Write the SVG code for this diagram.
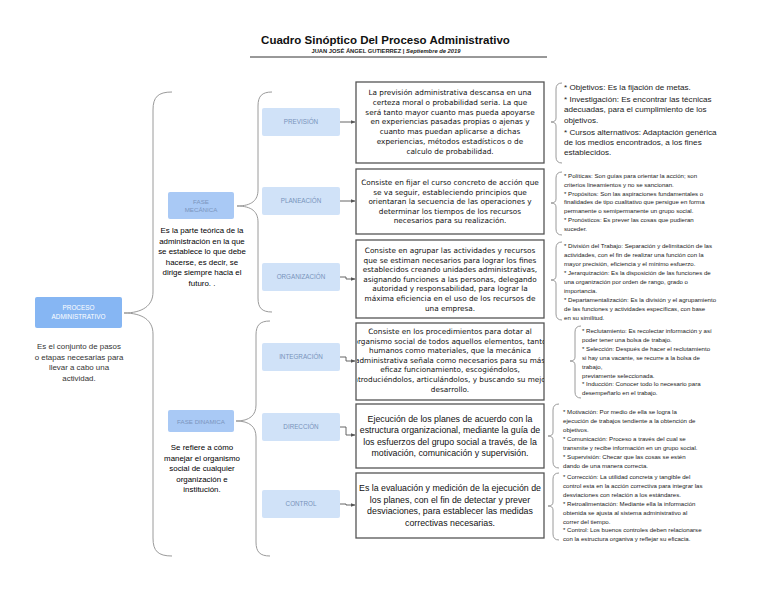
<svg xmlns="http://www.w3.org/2000/svg" width="768" height="594" viewBox="0 0 768 594">
<defs>
<style>
.bg{fill:#ffffff}
.title{font-family:"Liberation Sans",Arial,sans-serif;font-weight:bold;font-size:11.5px;fill:#111}
.sub{font-family:"Liberation Sans",Arial,sans-serif;font-weight:bold;font-size:5.8px;fill:#222}
.b1{fill:#86b6f3}
.b2{fill:#a9c9f5}
.b3{fill:#d0e2f8}
.l1{font-family:"Liberation Sans",Arial,sans-serif;font-size:6.4px;fill:#ffffff;text-anchor:middle}
.l2{font-family:"Liberation Sans",Arial,sans-serif;font-size:6.2px;fill:#7b95bd;text-anchor:middle}
.l3{font-family:"Liberation Sans",Arial,sans-serif;font-size:6.3px;fill:#7893bb;text-anchor:middle}
.lt{font-family:"Liberation Sans",Arial,sans-serif;font-size:7.9px;fill:#333;text-anchor:middle}
.ft{font-family:"Liberation Sans",Arial,sans-serif;font-size:7.9px;fill:#000;text-anchor:middle}
.box{fill:#ffffff;stroke:#555;stroke-width:1.3}
.dt{font-family:"DejaVu Sans",sans-serif;font-size:7.3px;fill:#111;text-anchor:middle}
.dt2{font-family:"Liberation Sans",Arial,sans-serif;font-size:8.8px;fill:#111;text-anchor:middle}
.ls{font-family:"Liberation Sans",Arial,sans-serif;font-size:8.1px;fill:#1a1a1a}
.ss{font-family:"Liberation Sans",Arial,sans-serif;font-size:6.1px;fill:#1a1a1a}
.brace{fill:none;stroke:#9a9a9a;stroke-width:1}
.arr{fill:none;stroke:#555;stroke-width:0.9}
</style>
<marker id="ah" viewBox="0 0 10 10" refX="9" refY="5" markerWidth="5" markerHeight="5" orient="auto" markerUnits="userSpaceOnUse">
<path d="M0,1 L10,5 L0,9 z" fill="#555"/>
</marker>
<clipPath id="clipInt"><rect x="357" y="323" width="187" height="77"/></clipPath>
</defs>
<rect class="bg" x="0" y="0" width="768" height="594"/>

<g id="header">
<text class="title" x="385.5" y="44" text-anchor="middle">Cuadro Sinóptico Del Proceso Administrativo</text>
<text class="sub" x="386" y="53" text-anchor="middle">JUAN JOSÉ ÁNGEL GUTIERREZ | <tspan font-style="italic">Septiembre de 2019</tspan></text>
<line x1="250" y1="57" x2="547" y2="57" stroke="#333" stroke-width="1"/>
</g>

<g id="connectors">
<path class="brace" d="M172,92 C158,92 153,97 153,110 L153,292 C153,306 142,313 124,313 C142,313 153,320 153,334 L153,538 C153,551 158,556 172,556"/>
<path class="brace" d="M272,92 C262,92 258,96 258,106 L258,190 C258,200 252,206 237,206 C252,206 258,212 258,222 L258,298 C258,308 262,312 272,312"/>
<path class="brace" d="M270,321 C260,321 256,325 256,335 L256,405 C256,415 250,421 236,421 C250,421 256,427 256,437 L256,542 C256,552 260,556 270,556"/>
<path class="brace" d="M562,83 Q556,83 556,89 L556,118 Q556,122 551,122 Q556,122 556,126 L556,157 Q556,163 562,163"/>
<path class="brace" d="M562,172 Q556,172 556,178 L556,199 Q556,203 551,203 Q556,203 556,207 L556,229 Q556,235 562,235"/>
<path class="brace" d="M562,242 Q556,242 556,248 L556,276 Q556,280 551,280 Q556,280 556,284 L556,314 Q556,320 562,320"/>
<path class="brace" d="M581,326 Q575,326 575,332 L575,357 Q575,361 570,361 Q575,361 575,365 L575,392 Q575,398 581,398"/>
<path class="brace" d="M559,404 Q553,404 553,410 L553,432 Q553,436 548,436 Q553,436 553,440 L553,462 Q553,468 559,468"/>
<path class="brace" d="M559,473 Q553,473 553,479 L553,502 Q553,506 548,506 Q553,506 553,510 L553,534 Q553,540 559,540"/>
<path class="arr" d="M340,122 L355,122" marker-end="url(#ah)"/>
<path class="arr" d="M340,201 L355,201" marker-end="url(#ah)"/>
<path class="arr" d="M340,277 L346,277 L346,279 L355,279" marker-end="url(#ah)"/>
<path class="arr" d="M340,357 L346,357 L346,361 L355,361" marker-end="url(#ah)"/>
<path class="arr" d="M340,427 L346,427 L346,435 L355,435" marker-end="url(#ah)"/>
<path class="arr" d="M340,504 L346,504 L346,505 L355,505" marker-end="url(#ah)"/>
</g>

<g id="proceso">
<rect class="b1" x="35" y="297" width="87" height="31" rx="2"/>
<text class="l1" x="78.5" y="310">PROCESO</text>
<text class="l1" x="78.5" y="319">ADMINISTRATIVO</text>
<text class="lt" x="79" y="349">Es el conjunto de pasos</text>
<text class="lt" x="79" y="359.5">o etapas necesarias para</text>
<text class="lt" x="79" y="370">llevar a cabo una</text>
<text class="lt" x="79" y="380.5">actividad.</text>
</g>

<g id="fase-mecanica">
<rect class="b2" x="168" y="192" width="66" height="27" rx="2"/>
<text class="l2" x="201" y="204">FASE</text>
<text class="l2" x="201" y="212">MECÁNICA</text>
<text class="ft" x="202" y="233">Es la parte teórica de la</text>
<text class="ft" x="202" y="243.5">administración en la que</text>
<text class="ft" x="202" y="254">se establece lo que debe</text>
<text class="ft" x="202" y="264.5">hacerse, es decir, se</text>
<text class="ft" x="202" y="275">dirige siempre hacia el</text>
<text class="ft" x="202" y="285.5">futuro.  .</text>
</g>

<g id="fase-dinamica">
<rect class="b2" x="168" y="410" width="66" height="22" rx="2"/>
<text class="l2" x="201" y="423.5">FASE DINAMICA</text>
<text class="ft" x="202" y="450">Se refiere a cómo</text>
<text class="ft" x="202" y="460.5">manejar el organismo</text>
<text class="ft" x="202" y="471">social de cualquier</text>
<text class="ft" x="202" y="481.5">organización e</text>
<text class="ft" x="202" y="492">institución.</text>
</g>

<g id="prevision">
<rect class="b3" x="262" y="108" width="78" height="28" rx="2"/>
<text class="l3" x="301" y="124.3">PREVISIÓN</text>
<rect class="box" x="356" y="82" width="188" height="81"/>
<text class="dt" x="450" y="95">La previsión administrativa descansa en una</text>
<text class="dt" x="450" y="104.8">certeza moral o probabilidad seria. La que</text>
<text class="dt" x="450" y="114.6">será tanto mayor cuanto mas pueda apoyarse</text>
<text class="dt" x="450" y="124.4">en experiencias pasadas propias o ajenas y</text>
<text class="dt" x="450" y="134.2">cuanto mas puedan aplicarse a dichas</text>
<text class="dt" x="450" y="144">experiencias, métodos estadísticos o de</text>
<text class="dt" x="450" y="153.8">calculo de probabilidad.</text>
<text class="ls" x="564" y="90">* Objetivos: Es la fijación de metas.</text>
<text class="ls" x="564" y="102">* Investigación: Es encontrar las técnicas</text>
<text class="ls" x="564" y="112.3">adecuadas, para el cumplimiento de los</text>
<text class="ls" x="564" y="122.6">objetivos.</text>
<text class="ls" x="564" y="134.6">* Cursos alternativos: Adaptación genérica</text>
<text class="ls" x="564" y="144.9">de los medios encontrados, a los fines</text>
<text class="ls" x="564" y="155.2">establecidos.</text>
</g>

<g id="planeacion">
<rect class="b3" x="262" y="187" width="78" height="28" rx="2"/>
<text class="l3" x="301" y="203.3">PLANEACIÓN</text>
<rect class="box" x="356" y="169" width="188" height="65"/>
<text class="dt" x="450" y="185">Consiste en fijar el curso concreto de acción que</text>
<text class="dt" x="450" y="194.6">se va seguir, estableciendo principios que</text>
<text class="dt" x="450" y="204.2">orientaran la secuencia de las operaciones y</text>
<text class="dt" x="450" y="213.8">determinar los tiempos de los recursos</text>
<text class="dt" x="450" y="223.4">necesarios para su realización.</text>
<text class="ss" x="564" y="178">* Políticas: Son guías para orientar la acción; son</text>
<text class="ss" x="564" y="186.8">criterios lineamientos y no se sancionan.</text>
<text class="ss" x="564" y="195.6">* Propósitos: Son las aspiraciones fundamentales o</text>
<text class="ss" x="564" y="204.4">finalidades de tipo cualitativo que persigue en forma</text>
<text class="ss" x="564" y="213.2">permanente o semipermanente un grupo social.</text>
<text class="ss" x="564" y="222">* Pronósticos: Es prever las cosas que pudieran</text>
<text class="ss" x="564" y="230.8">suceder.</text>
</g>

<g id="organizacion">
<rect class="b3" x="262" y="263" width="78" height="28" rx="2"/>
<text class="l3" x="301" y="279.3">ORGANIZACIÓN</text>
<rect class="box" x="356" y="240" width="188" height="78"/>
<text class="dt" x="450" y="253">Consiste en agrupar las actividades y recursos</text>
<text class="dt" x="450" y="262.6">que se estiman necesarios para lograr los fines</text>
<text class="dt" x="450" y="272.2">establecidos creando unidades administrativas,</text>
<text class="dt" x="450" y="281.8">asignando funciones a las personas, delegando</text>
<text class="dt" x="450" y="291.4">autoridad y responsabilidad, para lograr la</text>
<text class="dt" x="450" y="301">máxima eficiencia en el uso de los recursos de</text>
<text class="dt" x="450" y="310.6">una empresa.</text>
<text class="ss" x="564" y="248">* División del Trabajo: Separación y delimitación de las</text>
<text class="ss" x="564" y="257">actividades, con el fin de realizar una función con la</text>
<text class="ss" x="564" y="266">mayor precisión, eficiencia y el mínimo esfuerzo.</text>
<text class="ss" x="564" y="275">* Jerarquización: Es la disposición de las funciones de</text>
<text class="ss" x="564" y="284">una organización por orden de rango, grado o</text>
<text class="ss" x="564" y="293">importancia.</text>
<text class="ss" x="564" y="302">* Departamentalización: Es la división y el agrupamiento</text>
<text class="ss" x="564" y="311">de las funciones y actividades específicas, con base</text>
<text class="ss" x="564" y="320">en su similitud.</text>
</g>

<g id="integracion">
<rect class="b3" x="262" y="343" width="78" height="28" rx="2"/>
<text class="l3" x="301" y="359.3">INTEGRACIÓN</text>
<rect class="box" x="356" y="323" width="188" height="77"/>
<g clip-path="url(#clipInt)">
<text class="dt" x="450" y="334">Consiste en los procedimientos para dotar al</text>
<text class="dt" x="450" y="343.6">organismo social de todos aquellos elementos, tanto</text>
<text class="dt" x="450" y="353.2">humanos como materiales, que la mecánica</text>
<text class="dt" x="450" y="362.8">administrativa señala como necesarios para su más</text>
<text class="dt" x="450" y="372.4">eficaz funcionamiento, escogiéndolos,</text>
<text class="dt" x="450" y="382">introduciéndolos, articulándolos, y buscando su mejor</text>
<text class="dt" x="450" y="391.6">desarrollo.</text>
</g>
<text class="ss" x="582" y="333">* Reclutamiento: Es recolectar información y así</text>
<text class="ss" x="582" y="341.9">poder tener una bolsa de trabajo.</text>
<text class="ss" x="582" y="350.8">* Selección: Después de hacer el reclutamiento</text>
<text class="ss" x="582" y="359.7">si hay una vacante, se recurre a la bolsa de</text>
<text class="ss" x="582" y="368.6">trabajo,</text>
<text class="ss" x="582" y="377.5">previamente seleccionada.</text>
<text class="ss" x="582" y="386.4">* Inducción: Conocer todo lo necesario para</text>
<text class="ss" x="582" y="395.3">desempeñarlo en el trabajo.</text>
</g>

<g id="direccion">
<rect class="b3" x="262" y="413" width="78" height="28" rx="2"/>
<text class="l3" x="301" y="429.3">DIRECCIÓN</text>
<rect class="box" x="356" y="404" width="188" height="64"/>
<text class="dt2" x="450" y="421.8">Ejecución de los planes de acuerdo con la</text>
<text class="dt2" x="450" y="433.3">estructura organizacional, mediante la guía de</text>
<text class="dt2" x="450" y="444.8">los esfuerzos del grupo social a través, de la</text>
<text class="dt2" x="450" y="456.3">motivación, comunicación y supervisión.</text>
<text class="ss" x="563" y="414">* Motivación: Por medio de ella se logra la</text>
<text class="ss" x="563" y="423">ejecución de trabajos tendiente a la obtención de</text>
<text class="ss" x="563" y="432">objetivos.</text>
<text class="ss" x="563" y="441">* Comunicación: Proceso a través del cual se</text>
<text class="ss" x="563" y="450">transmite y recibe información en un grupo social.</text>
<text class="ss" x="563" y="459">* Supervisión: Checar que las cosas se estén</text>
<text class="ss" x="563" y="468">dando de una manera correcta.</text>
</g>

<g id="control">
<rect class="b3" x="262" y="490" width="78" height="28" rx="2"/>
<text class="l3" x="301" y="506.3">CONTROL</text>
<rect class="box" x="356" y="473" width="188" height="65"/>
<text class="dt2" x="450" y="491.3">Es la evaluación y medición de la ejecución de</text>
<text class="dt2" x="450" y="502.8">los planes, con el fin de detectar y prever</text>
<text class="dt2" x="450" y="514.3">desviaciones, para establecer las medidas</text>
<text class="dt2" x="450" y="525.8">correctivas necesarias.</text>
<text class="ss" x="563" y="479">* Corrección: La utilidad concreta y tangible del</text>
<text class="ss" x="563" y="487.9">control esta en la acción correctiva para integrar las</text>
<text class="ss" x="563" y="496.8">desviaciones con relación a los estándares.</text>
<text class="ss" x="563" y="505.7">* Retroalimentación: Mediante ella la información</text>
<text class="ss" x="563" y="514.6">obtenida se ajusta al sistema administrativo al</text>
<text class="ss" x="563" y="523.5">correr del tiempo.</text>
<text class="ss" x="563" y="532.4">* Control: Los buenos controles deben relacionarse</text>
<text class="ss" x="563" y="541.3">con la estructura organiva y reflejar su eficacia.</text>
</g>
</svg>
